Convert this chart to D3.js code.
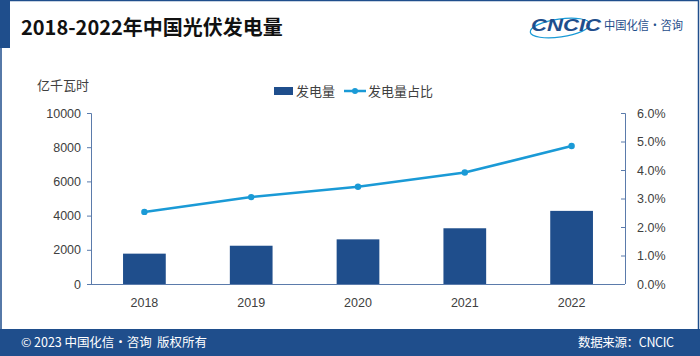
<!DOCTYPE html>
<html><head><meta charset="utf-8">
<script src="https://cdn.jsdelivr.net/npm/d3@7"></script>
<style>
html,body{margin:0;padding:0;background:#fff;}
svg{display:block;font-family:"Noto Sans CJK SC","Noto Sans",sans-serif;}
</style></head>
<body><svg id="c" width="700" height="356"></svg>
<script>
const years = ["2018","2019","2020","2021","2022"];
const generation = [1775, 2238, 2611, 3259, 4276];
const share = [2.53, 3.05, 3.41, 3.91, 4.84];
const leftTicks = [0, 2000, 4000, 6000, 8000, 10000];
const rightTicks = [0, 1, 2, 3, 4, 5, 6];
const title = "2018-2022年中国光伏发电量";
const unitLabel = "亿千瓦时";
const legendLabels = ["发电量", "发电量占比"];
const footerLeft = "© 2023 中国化信・咨询  版权所有";
const footerRight = "数据来源：CNCIC";

const dark = "#1f4e8c", lineC = "#1a9ad6", axisC = "#5b7bab", txt = "#404040";
const svg = d3.select("#c");

// frame
svg.append("rect").attr("x",1).attr("y",0.5).attr("width",697.5).attr("height",340).attr("fill","none").attr("stroke",dark).attr("stroke-width",1.5);
svg.append("rect").attr("x",0).attr("y",0).attr("width",10).attr("height",48).attr("fill",dark);
svg.append("rect").attr("x",0).attr("y",329).attr("width",700).attr("height",27).attr("fill",dark);

svg.append("text").attr("x",21).attr("y",35).attr("font-size",20).attr("font-weight","bold").attr("fill","#111").text(title);

// logo
const lg = svg.append("g");
lg.append("ellipse").attr("cx",560).attr("cy",28).attr("rx",30).attr("ry",9).attr("fill","none").attr("stroke","#1a9ad6").attr("stroke-width",1.2).attr("transform","rotate(-8,560,28)");
lg.append("text").attr("x",531).attr("y",31).attr("font-size",17).attr("font-weight","bold").attr("font-style","italic").attr("fill","#1f4e8c").attr("font-family","Liberation Sans, Arial, sans-serif").attr("textLength",70).attr("lengthAdjust","spacingAndGlyphs").text("CNCIC");
lg.append("text").attr("x",604).attr("y",30).attr("font-size",12).attr("fill","#1f4e8c").attr("textLength",79).attr("lengthAdjust","spacingAndGlyphs").text("中国化信·咨询");

// footer text
svg.append("text").attr("x",21).attr("y",347).attr("font-size",12.5).attr("fill","#fff").attr("xml:space","preserve").attr("textLength",186).text(footerLeft);
svg.append("text").attr("x",578).attr("y",347).attr("font-size",12.5).attr("fill","#fff").attr("textLength",96).text(footerRight);

// scales
const x = d3.scaleBand().domain(years).range([91,625]).paddingInner(0.6).paddingOuter(0.3);
const y = d3.scaleLinear().domain([0,10000]).range([284,113]);
const y2 = d3.scaleLinear().domain([0,6]).range([284,113]);

// bars
svg.append("g").selectAll("rect").data(years).join("rect")
  .attr("x",d=>x(d)).attr("width",x.bandwidth())
  .attr("y",(d,i)=>y(generation[i])).attr("height",(d,i)=>y(0)-y(generation[i]))
  .attr("fill",dark);

// axes
function styleAxis(g){
  g.selectAll("path,line").attr("stroke",axisC);
  g.selectAll("text").attr("fill",txt).attr("font-size",12.5);
}
svg.append("g").attr("transform","translate(91,0)")
  .call(d3.axisLeft(y).tickValues(leftTicks).tickSize(4).tickSizeOuter(4).tickPadding(6).tickFormat(d3.format("d")))
  .call(styleAxis).call(g=>g.select(".domain").attr("d","M-4,113.5H0.5V284"));
svg.append("g").attr("transform","translate(625,0)")
  .call(d3.axisRight(y2).tickValues(rightTicks).tickSize(-4).tickPadding(12).tickFormat(d=>d.toFixed(1)+"%"))
  .call(styleAxis).call(g=>g.select(".domain").attr("d","M-4,113.5H0.5V284"));
svg.append("g").attr("transform","translate(0,284)")
  .call(d3.axisBottom(x).tickSize(0).tickPadding(14))
  .call(styleAxis).call(g=>g.select(".domain").attr("d","M91,0.5H625"));

// line
const line = d3.line().x((d,i)=>x(years[i])+x.bandwidth()/2).y(d=>y2(d));
svg.append("path").datum(share).attr("d",line).attr("fill","none").attr("stroke",lineC).attr("stroke-width",2.5);
svg.append("g").selectAll("circle").data(share).join("circle")
  .attr("cx",(d,i)=>x(years[i])+x.bandwidth()/2).attr("cy",d=>y2(d)).attr("r",3.2).attr("fill",lineC);

// unit
svg.append("text").attr("x",37).attr("y",90).attr("font-size",13).attr("fill",txt).text(unitLabel);

// legend
const L = svg.append("g");
L.append("rect").attr("x",274).attr("y",87).attr("width",19).attr("height",8).attr("fill",dark);
L.append("text").attr("x",296).attr("y",96).attr("font-size",13).attr("fill",txt).text(legendLabels[0]);
L.append("line").attr("x1",344).attr("x2",366).attr("y1",91).attr("y2",91).attr("stroke",lineC).attr("stroke-width",2.5);
L.append("circle").attr("cx",355).attr("cy",91).attr("r",3).attr("fill",lineC);
L.append("text").attr("x",368).attr("y",96).attr("font-size",13).attr("fill",txt).text(legendLabels[1]);
</script></body></html>
